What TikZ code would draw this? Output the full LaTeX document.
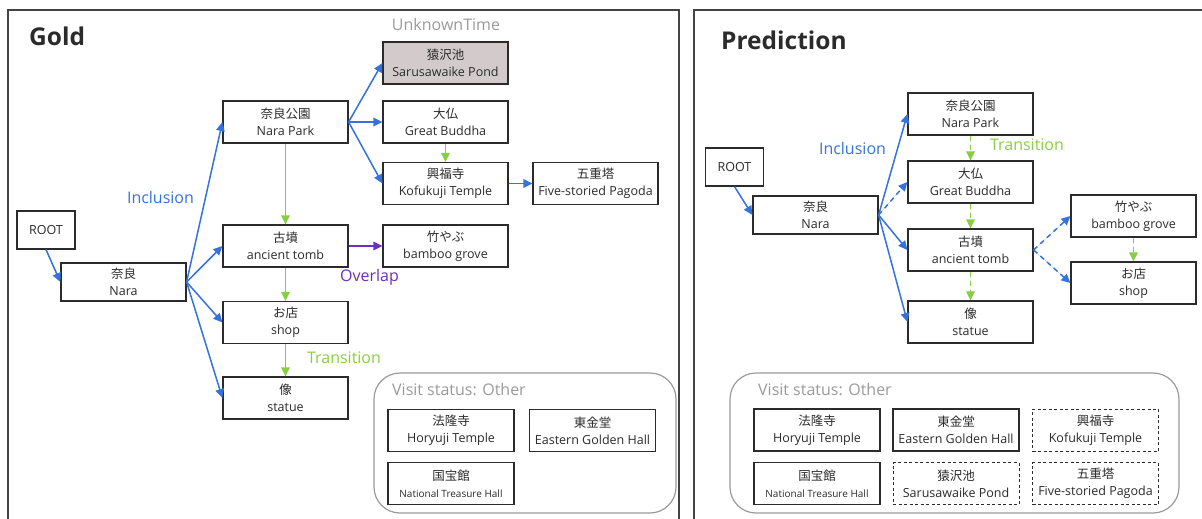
\documentclass[tikz,border=0pt]{standalone}
\usepackage{fontspec}
\setmainfont{Open Sans}
\newfontfamily\jpfont{Noto Sans CJK JP}
\usetikzlibrary{arrows.meta}
\definecolor{incl}{HTML}{3572DC}
\definecolor{trans}{HTML}{88CE45}
\definecolor{overl}{HTML}{6A2FC2}
\definecolor{ink}{HTML}{2B2B2B}
\definecolor{frame}{HTML}{444444}
\definecolor{soft}{HTML}{9A9A9A}
\definecolor{pondfill}{HTML}{D3CBCB}
\newcommand{\jp}[1]{{\jpfont #1}}
\tikzset{
  box/.style={draw=ink, line width=1.2pt, fill=white, text=ink, align=center,
    font=\fontsize{12.5}{17}\selectfont, minimum width=125pt, minimum height=42pt,
    inner sep=0pt},
  rootbox/.style={box, minimum width=58pt, minimum height=38pt},
  narabox/.style={box, minimum height=38pt},
  visbox/.style={box, minimum width=126pt},
  guess/.style={dashed, dash pattern=on 3pt off 2.5pt, line width=0.9pt},
  tip/.style={-{Triangle[length=9pt,width=8.5pt]}, line width=1.5pt},
  inc/.style={tip, draw=incl, fill=incl},
  trn/.style={tip, draw=trans, fill=trans, line width=1.8pt},
  ovl/.style={tip, draw=overl, fill=overl},
  dsh/.style={dash pattern=on 5pt off 4pt},
  panel/.style={draw=frame, line width=1.5pt},
  group/.style={draw=soft, line width=1.2pt, rounded corners=26pt},
  heading/.style={font=\fontsize{24.5}{28}\selectfont\bfseries, text=ink, anchor=base west, inner sep=0pt},
  caption/.style={font=\fontsize{16}{19}\selectfont, inner sep=0pt},
}
\begin{document}
\begin{tikzpicture}[x=1pt, y=-1pt]
\useasboundingbox (0,0) rectangle (1202,519);
\clip (0,0) rectangle (1202,519);

% ---------- left panel ----------
\draw[panel] (8,10) rectangle (679,540);
\node[heading] (goldtitle) at (29,46) {Gold};
\node[caption, text=soft] (unknown) at (446,25) {UnknownTime};

\node[rootbox]  (rootL)   at (46,230)     {ROOT};
\node[narabox]  (naraL)   at (123.5,282)  {\jp{奈良}\\Nara};
\node[box]      (parkL)   at (285.5,122)  {\jp{奈良公園}\\Nara Park};
\node[box]      (tombL)   at (285.5,246)  {\jp{古墳}\\ancient tomb};
\node[box]      (shopL)   at (285.5,322.5){\jp{お店}\\shop};
\node[box]      (statueL) at (285.5,398)  {\jp{像}\\statue};
\node[box, fill=pondfill] (pondL) at (445.5,63) {\jp{猿沢池}\\Sarusawaike Pond};
\node[box]      (buddhaL) at (445.5,122)  {\jp{大仏}\\Great Buddha};
\node[box]      (kofukuL) at (445.5,183.5){\jp{興福寺}\\Kofukuji Temple};
\node[box]      (pagodaL) at (595.5,183.5){\jp{五重塔}\\Five-storied Pagoda};
\node[box]      (bambooL) at (445.5,246)  {\jp{竹やぶ}\\bamboo grove};

\draw[inc] (rootL.south) -- (naraL.west);
\draw[inc] (naraL.east) -- (parkL.west);
\draw[inc] (naraL.east) -- (tombL.west);
\draw[inc] (naraL.east) -- (shopL.west);
\draw[inc] (naraL.east) -- (statueL.west);
\draw[inc] (parkL.east) -- (pondL.west);
\draw[inc] (parkL.east) -- (buddhaL.west);
\draw[inc] (parkL.east) -- (kofukuL.west);
\draw[inc] (kofukuL.east) -- (pagodaL.west);
\draw[trn] (parkL.south) -- (tombL.north);
\draw[trn] (tombL.south) -- (shopL.north);
\draw[trn] (shopL.south) -- (statueL.north);
\draw[trn] (buddhaL.south) -- (kofukuL.north);
\draw[ovl] (tombL.east) -- (bambooL.west);

\node[caption, text=incl]  (inclL)  at (160.5,197) {Inclusion};
\node[caption, text=overl] (overL)  at (369.5,277) {Overlap};
\node[caption, text=trans] (transL) at (344,358)   {Transition};

\draw[group] (374,373) rectangle (676,513);
\node[caption, text=soft, anchor=west] (visL) at (392,390) {Visit status: Other};
\node[visbox] (horyuL)   at (451,430.5)  {\jp{法隆寺}\\Horyuji Temple};
\node[visbox] (easternL) at (592.5,430.5){\jp{東金堂}\\Eastern Golden Hall};
\node[visbox, font=\fontsize{10}{17}\selectfont] (nthL) at (451,483.5) {\jp{\fontsize{12.5}{17}\selectfont 国宝館}\\National Treasure Hall};

% ---------- right panel ----------
\draw[panel] (694,10) rectangle (1220,540);
\node[heading] (predtitle) at (721,49) {Prediction};

\node[rootbox]  (rootR)   at (734.5,167)  {ROOT};
\node[narabox]  (naraR)   at (815.5,215)  {\jp{奈良}\\Nara};
\node[box]      (parkR)   at (970.5,114)  {\jp{奈良公園}\\Nara Park};
\node[box]      (buddhaR) at (970.5,182)  {\jp{大仏}\\Great Buddha};
\node[box]      (tombR)   at (970.5,250)  {\jp{古墳}\\ancient tomb};
\node[box]      (statueR) at (970.5,322)  {\jp{像}\\statue};
\node[box]      (bambooR) at (1133.5,216) {\jp{竹やぶ}\\bamboo grove};
\node[box]      (shopR)   at (1133.5,283) {\jp{お店}\\shop};

\draw[inc] (rootR.south) -- (naraR.west);
\draw[inc] (naraR.east) -- (parkR.west);
\draw[inc, dsh] (naraR.east) -- (buddhaR.west);
\draw[inc] (naraR.east) -- (tombR.west);
\draw[inc] (naraR.east) -- (statueR.west);
\draw[trn, dsh] (parkR.south) -- (buddhaR.north);
\draw[trn, dsh] (buddhaR.south) -- (tombR.north);
\draw[trn, dsh] (tombR.south) -- (statueR.north);
\draw[inc, dsh] (tombR.east) -- (bambooR.west);
\draw[inc, dsh] (tombR.east) -- (shopR.west);
\draw[trn, dsh] (bambooR.south) -- (shopR.north);

\node[caption, text=incl]  (inclR)  at (852.5,148) {Inclusion};
\node[caption, text=trans] (transR) at (1027,145)  {Transition};

\draw[group] (730,373) rectangle (1179,513);
\node[caption, text=soft, anchor=west] (visR) at (758,390) {Visit status: Other};
\node[visbox] (horyuR)   at (817,430)    {\jp{法隆寺}\\Horyuji Temple};
\node[visbox] (easternR) at (956,430)    {\jp{東金堂}\\Eastern Golden Hall};
\node[visbox, guess] (kofukuR) at (1095.5,430) {\jp{興福寺}\\Kofukuji Temple};
\node[visbox, font=\fontsize{10}{17}\selectfont] (nthR) at (817,483.5) {\jp{\fontsize{12.5}{17}\selectfont 国宝館}\\National Treasure Hall};
\node[visbox, guess] (pondR)   at (956,483.5)    {\jp{猿沢池}\\Sarusawaike Pond};
\node[visbox, guess] (pagodaR) at (1095.5,483.5) {\jp{五重塔}\\Five-storied Pagoda};
\end{tikzpicture}
\end{document}
